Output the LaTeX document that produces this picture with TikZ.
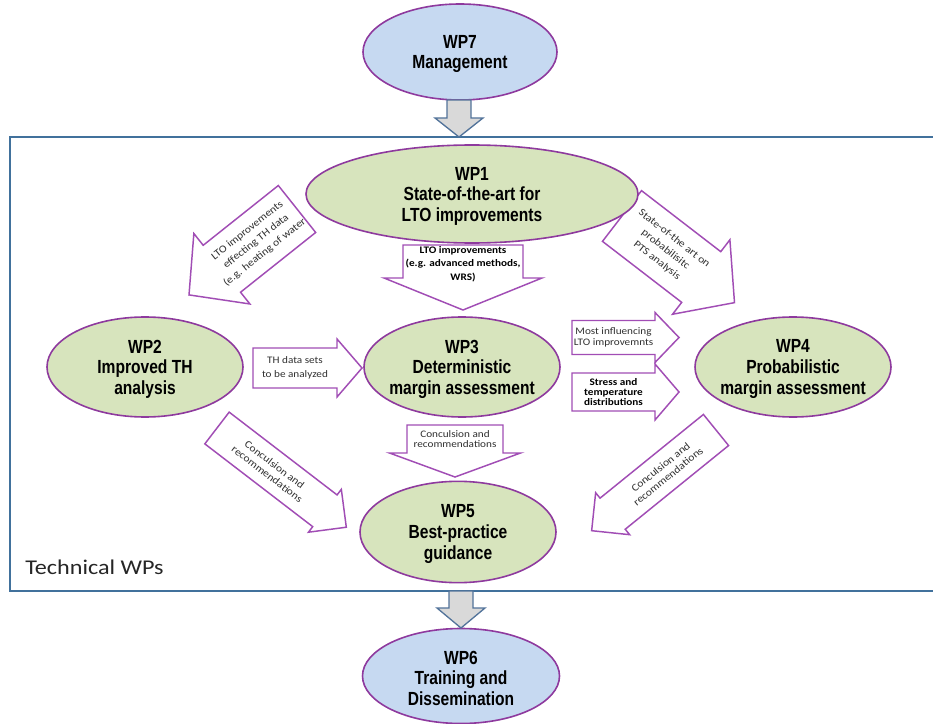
\documentclass[tikz,border=0pt]{standalone}
\usepackage{fontspec}
\setmainfont{Carlito}
\newfontfamily\wpfont[FakeStretch=0.82]{Liberation Sans}
\newfontfamily\smallfont[FakeStretch=1.12]{Carlito}
\newfontfamily\techfont[FakeStretch=1.15]{Carlito}
\usetikzlibrary{shapes.geometric}

\definecolor{wpgreen}{HTML}{D7E4BD}
\definecolor{wpblue}{HTML}{C6D9F1}
\definecolor{wpborder}{HTML}{8E3A9E}
\definecolor{arrowborder}{HTML}{A14DB5}
\definecolor{grayfill}{HTML}{D9D9D9}
\definecolor{grayborder}{HTML}{52739A}
\definecolor{boxborder}{HTML}{41719C}
\definecolor{textgray}{HTML}{303030}

\tikzset{
  wpnode/.style={ellipse, draw=wpborder, line width=1.2pt, inner sep=0pt},
  greenwp/.style={wpnode, fill=wpgreen},
  bluewp/.style={wpnode, fill=wpblue},
  wptext/.style={font=\wpfont\bfseries\fontsize{14.25pt}{15.4pt}\selectfont,
    align=center, text=black, inner sep=0pt, yshift=-1.5pt},
  txtreg/.style={font=\smallfont\fontsize{7.5pt}{#1}\selectfont,
    align=center, text=textgray, inner sep=0pt},
  txtdiag/.style={font=\smallfont\fontsize{7.8pt}{#1}\selectfont,
    align=center, text=textgray, inner sep=0pt},
  txtbold/.style={font=\smallfont\bfseries\fontsize{7.5pt}{#1}\selectfont,
    align=center, text=black, inner sep=0pt},
  blockarrow/.style={draw=arrowborder, fill=white, line width=1.1pt, line join=miter},
  grayarrow/.style={draw=grayborder, fill=grayfill, line width=1pt, line join=miter},
  techbox/.style={draw=boxborder, line width=1.5pt},
}

% Block arrow: [style]{name}{tail centre}{direction}{length}{shaft width}{head width}{head length}
\newcommand\blockarrow[8][blockarrow]{%
  \begin{scope}[shift={#3},rotate=#4]
    \draw[#1] (0,-#6/2) -- ({#5-#8},-#6/2) -- ({#5-#8},-#7/2) -- (#5,0)
      -- ({#5-#8},#7/2) -- ({#5-#8},#6/2) -- (0,#6/2) -- cycle;
    \coordinate (#2-mid) at ({(#5-#8)/2},0);
    \coordinate (#2-tip) at (#5,0);
  \end{scope}}

\begin{document}
\begin{tikzpicture}[x=0.75pt,y=-0.75pt]
\useasboundingbox (0,0) rectangle (933,724);
\fill[white] (0,0) rectangle (933,724);

% frame around the technical work packages
\draw[techbox] (10,137) rectangle (945,591);
\node[font=\techfont\fontsize{15.75pt}{18pt}\selectfont, anchor=west, inner sep=0pt,
  text=black!85] (techlabel) at (25,567) {Technical WPs};

% management and dissemination
\node[bluewp, minimum width=145.5pt, minimum height=72pt] (wp7) at (460,52) {};
\node[wptext] (wp7-text) at (wp7) {WP7\\Management};
\node[bluewp, minimum width=147.75pt, minimum height=71.25pt] (wp6) at (461,676) {};
\node[wptext] (wp6-text) at (wp6) {WP6\\Training and\\Dissemination};

\blockarrow[grayarrow]{g1}{(459,100)}{-90}{37}{24}{48}{19}
\blockarrow[grayarrow]{g2}{(461,591)}{-90}{37}{24}{48}{20}

% block arrows between the technical work packages
\blockarrow{a1}{(297,209)}{218.5}{138}{60}{90}{42}
\node[txtdiag=10.5pt, rotate=38.5] (a1-text) at ([xshift=-2.5pt,yshift=-2pt]a1-mid)
  {LTO improvements\\effecting TH data\\(e.g. heating of water};

\blockarrow{a2}{(463,245)}{-90}{65}{120}{158}{32}
\node[txtbold=10pt] (a2-text) at ([yshift=-2pt]a2-mid)
  {LTO improvements\\(e.g. advanced methods,\\WRS)};

\blockarrow{a3}{(622,216)}{-37.6}{142}{64}{94}{42}
\node[txtdiag=10.5pt, rotate=-38] (a3-text) at ([xshift=3pt,yshift=-2.3pt]a3-mid)
  {State-of-the art on\\probabilisitc\\PTS analysis};

\blockarrow{a4}{(253,368)}{0}{109}{40}{58}{25}
\node[txtreg=10.5pt] (a4-text) at (a4-mid) {TH data sets\\to be analyzed};

\blockarrow{a5}{(572,337.5)}{0}{107}{34}{50}{24}
\node[txtreg=7.8pt] (a5-text) at (a5-mid) {Most influencing\\LTO improvemnts};

\blockarrow{a6}{(572,392)}{0}{107}{38}{56}{24}
\node[txtbold=7.3pt] (a6-text) at (a6-mid) {Stress and\\temperature\\distributions};

\blockarrow{a7}{(217,428)}{-37.5}{163}{40}{54}{27}
\node[txtdiag=9pt, rotate=-37.5] (a7-text) at (a7-mid) {Conculsion and\\recommendations};

\blockarrow{a8}{(716,430)}{219}{160}{40}{54}{27}
\node[txtdiag=9pt, rotate=39] (a8-text) at (a8-mid) {Conculsion and\\recommendations};

\blockarrow{a9}{(455,425)}{-90}{52}{96}{131}{24}
\node[txtreg=7.8pt] (a9-text) at (a9-mid) {Conculsion and\\recommendations};

% technical work packages
\node[greenwp, minimum width=249pt, minimum height=73.5pt] (wp1) at (472,194) {};
\node[wptext] (wp1-text) at (wp1) {WP1\\State-of-the-art for\\LTO improvements};
\node[greenwp, minimum width=147pt, minimum height=75pt] (wp2) at (145,367) {};
\node[wptext] (wp2-text) at (wp2) {WP2\\Improved TH\\analysis};
\node[greenwp, minimum width=147pt, minimum height=75pt] (wp3) at (462,367) {};
\node[wptext] (wp3-text) at (wp3) {WP3\\Deterministic\\margin assessment};
\node[greenwp, minimum width=147pt, minimum height=75pt] (wp4) at (793,367) {};
\node[wptext] (wp4-text) at (wp4) {WP4\\Probabilistic\\margin assessment};
\node[greenwp, minimum width=147pt, minimum height=76pt] (wp5) at (458,532) {};
\node[wptext] (wp5-text) at (wp5) {WP5\\Best-practice\\guidance};
\end{tikzpicture}
\end{document}
